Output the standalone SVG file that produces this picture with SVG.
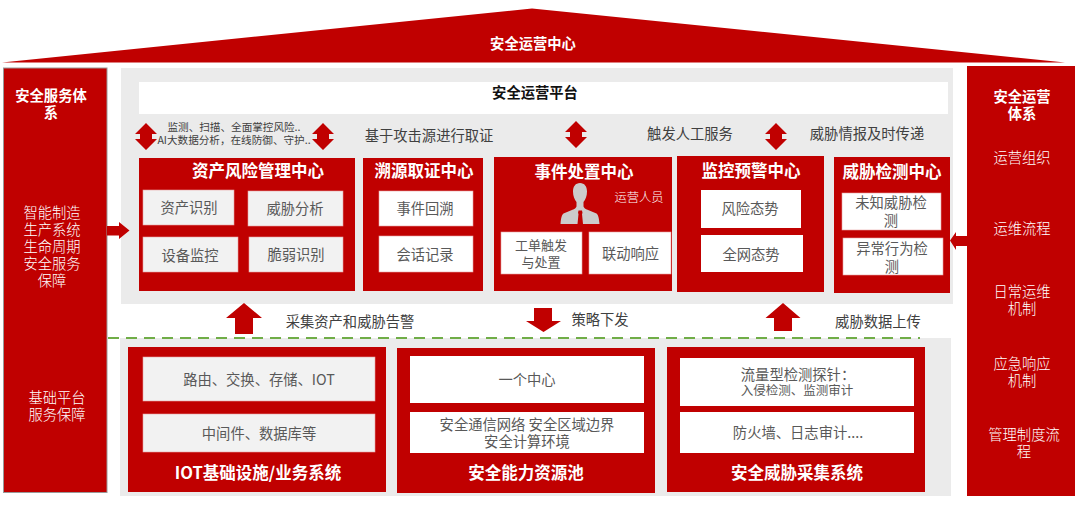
<svg xmlns="http://www.w3.org/2000/svg" width="1080" height="505" viewBox="0 0 1080 505">
<style>
text{font-family:"Noto Sans CJK SC","Liberation Sans",sans-serif;text-anchor:middle;dominant-baseline:central}
.r{fill:#c00000}.g{fill:#ebebeb}.w{fill:#fff}.l{fill:#f2f2f2}
.bx{stroke:#e6a0a0;stroke-width:.6}
.t{fill:#fff;font-weight:700;font-size:16.5px}
.st{fill:#fff;font-weight:700;font-size:14.300px}
.s{fill:#fff;font-size:14.300px;font-weight:300}
.b{fill:#595959;font-size:14.300px}
.n{fill:#404040;font-size:14.300px}
</style>
<defs>
<path id="dbl" d="M0-13.500L11-2.500H6V2.500H11L0 13.500L-11 2.500H-6V-2.500H-11Z"/>
<path id="up" d="M0 0L18 15H9V31H-9V15H-18Z"/>
</defs>
<g id="background">
<rect class="g" x="121" y="68" width="832" height="236"/>
<rect class="g" x="120" y="338" width="831" height="158"/>
</g>
<g id="roof"><polygon class="r" points="2,62.500 532,8.500 1065,62.500"/><text class="st" x="533" y="42">安全运营中心</text></g>
<g id="left-panel"><rect class="r" x="3.500" y="68" width="103.500" height="424.500" stroke="#999" stroke-width="1"/>
<text class="st"><tspan x="51" y="94">安全服务体</tspan><tspan x="51" y="111">系</tspan></text>
<text class="s"><tspan x="52" y="211">智能制造</tspan><tspan x="52" y="228">生产系统</tspan><tspan x="52" y="245">生命周期</tspan><tspan x="52" y="262">安全服务</tspan><tspan x="52" y="279">保障</tspan></text>
<text class="s"><tspan x="57" y="396">基础平台</tspan><tspan x="57" y="413">服务保障</tspan></text></g>
<g id="right-panel"><rect class="r" x="967" y="66" width="108" height="430"/>
<text class="st"><tspan x="1022" y="95">安全运营</tspan><tspan x="1022" y="112">体系</tspan></text>
<text class="s" x="1022" y="156">运营组织</text><text class="s" x="1022" y="227">运维流程</text>
<text class="s"><tspan x="1022" y="290">日常运维</tspan><tspan x="1022" y="307">机制</tspan></text>
<text class="s"><tspan x="1022" y="362">应急响应</tspan><tspan x="1022" y="379">机制</tspan></text>
<text class="s"><tspan x="1024" y="433">管理制度流</tspan><tspan x="1024" y="450">程</tspan></text></g>
<g id="platform"><rect class="w" x="139" y="82" width="809" height="32"/><text x="535" y="91" fill="#111" font-size="14.300" font-weight="700">安全运营平台</text></g>
<g id="asset-center"><rect class="r" x="139" y="158" width="216" height="133"/><text class="t" x="258" y="170">资产风险管理中心</text>
<rect class="l bx" x="143" y="190" width="91" height="35"/><text class="b" x="189" y="206">资产识别</text>
<rect class="l bx" x="248" y="191" width="95" height="35"/><text class="b" x="295" y="207">威胁分析</text>
<rect class="l bx" x="143" y="237" width="95" height="35"/><text class="b" x="190" y="254">设备监控</text>
<rect class="l bx" x="249" y="237" width="94" height="35"/><text class="b" x="296" y="253">脆弱识别</text></g>
<g id="trace-center"><rect class="r" x="363" y="158" width="120" height="133"/><text class="t" x="424" y="170">溯源取证中心</text>
<rect class="w bx" x="379" y="191" width="94" height="35"/><text class="b" x="425" y="207">事件回溯</text>
<rect class="w bx" x="379" y="236" width="94" height="36"/><text class="b" x="425" y="253">会话记录</text></g>
<g id="incident-center"><rect class="r" x="494" y="157" width="178" height="134"/><text class="t" x="584" y="171">事件处置中心</text>
<path d="M580 183c-4.500 0-7 3.500-7 8.500 0 4.500 1.500 8 3.500 10.500v4.500c-.5 1.500-2 2.500-4 3.300l-9 3.700c-1.500 1-2.500 4-3 10.500h39c-.5-6.500-1.500-9.500-3-10.500l-9-3.700c-2-.8-3.500-1.800-4-3.300v-4.500c2-2.500 3.500-6 3.500-10.500 0-5-2.500-8.500-7-8.500z" fill="#ccc"/>
<path class="r" d="M578.500 210.500h3.500l.5 2.500-.5 1 1 10h-5.500l1-10-.5-1z"/>
<text x="639" y="197" fill="#fff" font-size="12.300" font-weight="300">运营人员</text>
<rect class="w bx" x="501" y="232" width="81" height="42"/><text class="b" style="font-size:13px"><tspan x="541" y="243.500">工单触发</tspan><tspan x="541" y="260.500">与处置</tspan></text>
<rect class="w bx" x="589" y="232" width="82" height="42"/><text class="b" x="630.500" y="252">联动响应</text></g>
<g id="monitor-center"><rect class="r" x="677" y="156" width="147" height="136"/><text class="t" x="751" y="170">监控预警中心</text>
<rect class="w" x="701" y="190" width="100" height="38"/><text class="b" x="750" y="207">风险态势</text>
<rect class="w" x="701" y="235" width="102" height="37"/><text class="b" x="751" y="253">全网态势</text></g>
<g id="detect-center"><rect class="r" x="834" y="157" width="116" height="136"/><text class="t" x="892" y="171">威胁检测中心</text>
<rect class="w bx" x="842" y="193" width="99" height="37"/><text class="b"><tspan x="891" y="201">未知威胁检</tspan><tspan x="891" y="219">测</tspan></text>
<rect class="w bx" x="843" y="238" width="100" height="37"/><text class="b"><tspan x="892" y="247">异常行为检</tspan><tspan x="892" y="265">测</tspan></text></g>
<g id="iot"><rect class="r" x="128" y="347" width="258" height="145"/>
<rect class="l bx" x="143" y="357" width="232" height="44"/><text class="b" x="259" y="378">路由、交换、存储、IOT</text>
<rect class="l bx" x="143" y="414" width="232" height="38"/><text class="b" x="259" y="432">中间件、数据库等</text>
<text class="t" x="258" y="472">IOT基础设施/业务系统</text></g>
<g id="pool"><rect class="r" x="397" y="348" width="258" height="145"/>
<rect class="w" x="410" y="356" width="234" height="47"/><text class="b" x="527" y="378">一个中心</text>
<rect class="w" x="410" y="412" width="234" height="41"/><text class="b"><tspan x="527" y="423">安全通信网络 安全区域边界</tspan><tspan x="527" y="440">安全计算环境</tspan></text>
<text class="t" x="526" y="472">安全能力资源池</text></g>
<g id="collect"><rect class="r" x="667" y="347" width="258" height="145"/>
<rect class="w" x="680" y="358" width="234" height="48"/><text class="b"><tspan x="798" y="373">流量型检测探针：</tspan><tspan x="797" y="389" style="font-size:12.500px">入侵检测、监测审计</tspan></text>
<rect class="w" x="680" y="412" width="234" height="41"/><text class="b" x="798" y="431">防火墙、日志审计....</text>
<text class="t" x="797" y="472">安全威胁采集系统</text></g>
<g id="labels">
<text fill="#404040" font-size="10.600"><tspan x="234" y="126">监测、扫描、全面掌控风险..</tspan><tspan x="234" y="139">AI大数据分析，在线防御、守护..</tspan></text>
<text class="n" x="429" y="134">基于攻击源进行取证</text><text class="n" x="690" y="132">触发人工服务</text><text class="n" x="867" y="132">威胁情报及时传递</text>
<text class="n" x="350" y="320">采集资产和威胁告警</text><text class="n" x="600" y="318">策略下发</text><text class="n" x="878" y="320">威胁数据上传</text></g>
<g id="connectors">
<use class="r" href="#dbl" x="146" y="136.500"/><use class="r" href="#dbl" x="323" y="136.500"/><use class="r" href="#dbl" x="576" y="134.500"/><use class="r" href="#dbl" x="776" y="136.500"/>
<use class="r" href="#up" x="244" y="303"/><path class="r" d="M783 303L800.500 318H792V331H774V318H765.500Z"/>
<path class="r" d="M534 308H552V321H561L543.500 332L526 321H534Z"/>
<path class="r" d="M107 226H119V222L129.500 230.500L119 239V235.500H107Z"/>
<path class="r" d="M967 236H956V232L950 240.500L956 250V246H967Z"/>
<line x1="108" y1="338" x2="920" y2="338" stroke="#70ad47" stroke-width="2" stroke-dasharray="11 7"/>
</g>
</svg>
